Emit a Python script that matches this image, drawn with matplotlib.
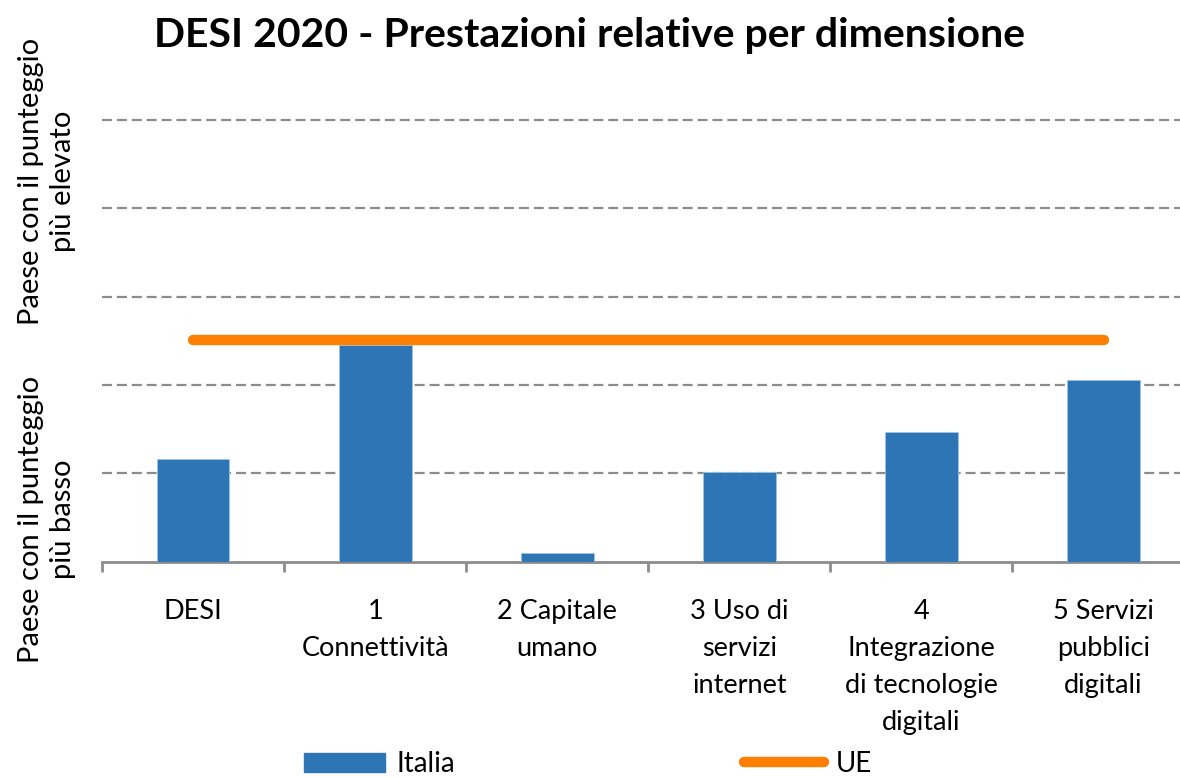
import matplotlib
matplotlib.use("Agg")
import matplotlib.pyplot as plt
from matplotlib.lines import Line2D
from matplotlib.patches import Patch

categories = ["DESI", "1\nConnettività", "2 Capitale\numano", "3 Uso di\nservizi\ninternet",
              "4\nIntegrazione\ndi tecnologie\ndigitali", "5 Servizi\npubblici\ndigitali"]
italia = [23.3, 49.1, 1.9, 20.3, 29.3, 41.0]
ue = [50.2] * 6
grid_levels = [20, 40, 60, 80, 100]

plt.rcParams['font.family'] = ['Lato', 'DejaVu Sans']

fig = plt.figure(figsize=(11.8, 7.78), dpi=100)
ax = fig.add_axes([102/1180, 216.5/778, 1078/1180, 445/778])

x = list(range(len(categories)))
ax.bar(x, italia, width=0.4, color="#2E75B6", edgecolor="#9DC3E6", linewidth=0.6, zorder=3)
ax.plot(x, ue, color="#FF8000", linewidth=7.5, solid_capstyle="round", zorder=4)

for g in grid_levels:
    ax.axhline(g, color="#8C8C8C", linewidth=1.6, linestyle=(0, (4.5, 2.2)), zorder=1)

ax.set_xlim(-0.5, 5.42)
ax.set_ylim(0, 100.8)
ax.set_yticks([])
for s in ["top", "right", "left"]:
    ax.spines[s].set_visible(False)
ax.spines["bottom"].set_color("#8C8C8C")
ax.spines["bottom"].set_linewidth(2)

ax.set_xticks([i - 0.5 for i in range(len(categories))], minor=False)
ax.set_xticklabels([])
ax.tick_params(axis="x", which="major", length=7, width=2, color="#8C8C8C")
ax.set_xticks(x, minor=True)
ax.set_xticklabels(categories, minor=True, fontsize=19.5, linespacing=1.6, va="top")
ax.tick_params(axis="x", which="minor", length=0, pad=27)

fig.text(589/1180, 1 - 35/778, "DESI 2020 - Prestazioni relative per dimensione",
         ha="center", va="center", fontsize=29.5, fontweight="bold")

fig.text(47/1180, 1 - 181/778, "Paese con il punteggio\npiù elevato", rotation=90,
         ha="center", va="center", fontsize=21, linespacing=1.25, multialignment="center")
fig.text(47/1180, 1 - 519/778, "Paese con il punteggio\npiù basso", rotation=90,
         ha="center", va="center", fontsize=21, linespacing=1.25, multialignment="center")

handles = [Patch(facecolor="#2E75B6", edgecolor="#2E75B6"),
           Line2D([0], [0], color="#FF8000", linewidth=7.5, solid_capstyle="round")]
fig.legend(handles, ["Italia", "UE"], loc="center", bbox_to_anchor=(588/1180, 1 - 764/778),
           ncol=2, frameon=False, fontsize=20, handlelength=2.9, handletextpad=0.4,
           columnspacing=10.4, handleheight=0.7)

fig.savefig("out.png", dpi=100)
